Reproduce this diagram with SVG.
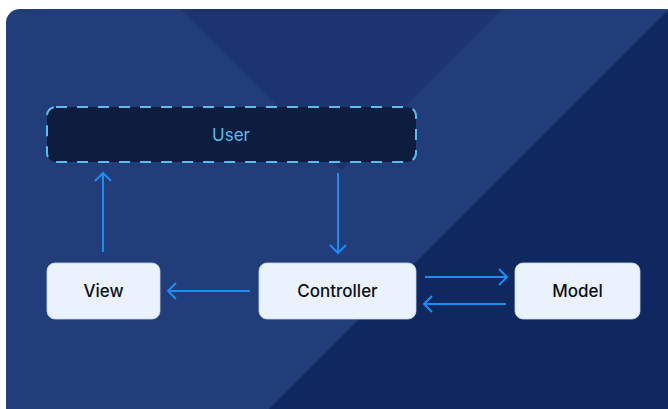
<svg xmlns="http://www.w3.org/2000/svg" width="668" height="409" viewBox="0 0 668 409">
  <defs>
    <style>
      .node rect.box { fill: #eaf2fe; stroke: #c9d6ec; stroke-width: 0.8; }
      .label { font-family: Inter, "Noto Sans", "Liberation Sans", sans-serif; font-size: 17px; font-weight: 500; fill: #0d0f14; text-anchor: middle; }
      .user-label { fill: #5bbcf0; font-weight: 400; }
      .conn { stroke: #1b8ef0; stroke-width: 2; fill: none; marker-end: url(#arrow); }
    </style>
    <marker id="arrow" markerUnits="userSpaceOnUse" markerWidth="12" markerHeight="18" viewBox="0 0 12 18" refX="10" refY="9" orient="auto">
      <path d="M2,1 L10,9 L2,17" fill="none" stroke="#1b8ef0" stroke-width="2"/>
    </marker>
    <clipPath id="bgclip">
      <rect x="6" y="9" width="674" height="420" rx="14"/>
    </clipPath>
  </defs>

  <g id="background" clip-path="url(#bgclip)">
    <rect x="0" y="0" width="700" height="430" fill="#213d7a"/>
    <polygon points="180,9 503,9 341.5,170.5" fill="#1c3470"/>
    <polygon points="669,9 700,9 700,430 248,430" fill="#0f2960"/>
  </g>

  <g id="user">
    <rect x="47" y="107" width="369" height="55" rx="9" fill="#0c1d3d" stroke="#5bbcf0" stroke-width="2" stroke-dasharray="11 10"/>
    <text class="label user-label" x="231" y="140.5">User</text>
  </g>

  <g id="view" class="node">
    <rect class="box" x="47" y="263" width="113" height="56" rx="8"/>
    <text class="label" x="103.5" y="297">View</text>
  </g>

  <g id="controller" class="node">
    <rect class="box" x="259" y="263" width="157" height="56" rx="8"/>
    <text class="label" x="337.5" y="297">Controller</text>
  </g>

  <g id="model" class="node">
    <rect class="box" x="515" y="263" width="125" height="56" rx="8"/>
    <text class="label" x="577.5" y="297">Model</text>
  </g>

  <g id="connectors">
    <line class="conn" x1="103" y1="252" x2="103" y2="173"/>
    <line class="conn" x1="338" y1="173" x2="338" y2="253"/>
    <line class="conn" x1="250" y1="291" x2="168" y2="291"/>
    <line class="conn" x1="425" y1="277" x2="507" y2="277"/>
    <line class="conn" x1="506" y1="304" x2="424" y2="304"/>
  </g>
</svg>
